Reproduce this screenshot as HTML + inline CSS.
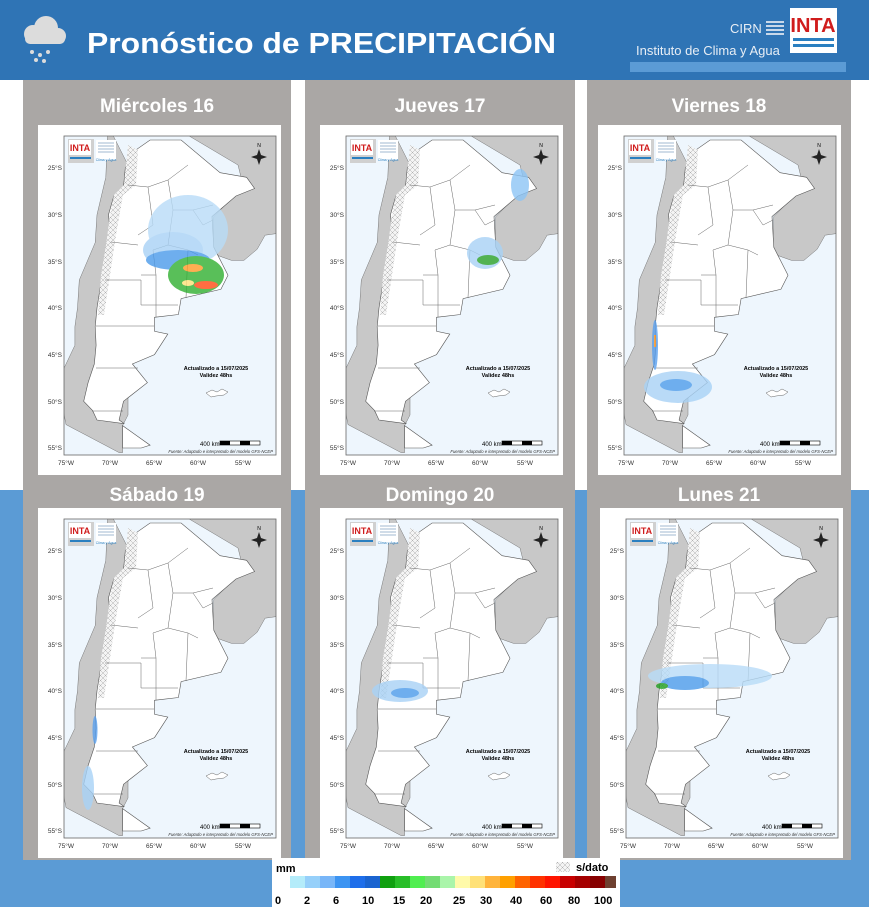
<!DOCTYPE html>
<html><head><meta charset="utf-8"><style>
html,body{margin:0;padding:0;width:869px;height:907px;overflow:hidden;background:#fff}
svg{display:block;font-family:"Liberation Sans",sans-serif}
</style></head><body>
<svg width="869" height="907" viewBox="0 0 869 907" xmlns="http://www.w3.org/2000/svg">
<defs>
<pattern id="hx" width="5" height="5" patternUnits="userSpaceOnUse">
<rect width="5" height="5" fill="#f4f4f4"/><path d="M0 0L5 5M5 0L0 5" stroke="#b0b0b0" stroke-width="0.5"/>
</pattern>
<clipPath id="fr"><rect x="26" y="11" width="212" height="319"/></clipPath>
<symbol id="map" viewBox="0 0 243 350" width="243" height="350">
<rect width="243" height="350" fill="#fff"/>
<g clip-path="url(#fr)">
<rect x="26" y="11" width="212" height="319" fill="#eef6fd"/>
<polygon fill="#c8c8c8" stroke="#777" stroke-width="0.5" points="69.6,10.3 67.8,52.3 59,89.7 57.2,117.6 41.3,155 39.5,183 36.9,201.6 36.9,220.3 23.6,248.3 23.6,276.3 28,299.6 54.6,313.6 81.1,327.6 84.6,327.6 84.6,300.6 90,290 90,40 75,10.3"/>
<polygon fill="#c8c8c8" stroke="#777" stroke-width="0.5" points="60,10.3 240.4,10.3 240.4,108.3 227.1,110.2 219.2,124.2 205.9,135.4 193.6,135.4 180.3,130.7 174.9,123.2 175.8,91.5 196.2,71 205,60 200,40 150,10.3"/>
<polygon fill="#fff" stroke="#555" stroke-width="0.6" points="112.1,15 143.1,15 182.1,47.7 208.6,52.3 216.6,63.5 198,71 174,91.5 175.8,122.3 182.9,136.3 190,150.3 182.9,164.3 143.1,173.6 140.4,189.5 116.5,192.3 116.5,206.3 129.8,209.1 116.5,229.6 94.4,239 109.4,257.6 85.5,276.3 81.1,295 86.4,298.7 59,295 54.6,285.6 45.7,276.3 50.1,257.6 56.3,239 58.1,220.3 57.2,201.6 59,183 63.4,155 67.8,136.3 73.2,117.6 70.5,89.7 75.8,71 85.5,61.7 87.3,43 98.8,24.3"/>
<polygon fill="#fff" stroke="#555" stroke-width="0.6" points="84.6,300.6 84.6,323 103.2,323 112.1,320.2 98.8,310.8"/>
<path fill="url(#hx)" d="M90,20 L100,25 L98,60 L85,70 L78,110 L72,150 L66,190 L60,190 L63,150 L68,120 L72,90 L76,70 L86,60 L88,40Z"/>
<path fill="none" stroke="#666" stroke-width="0.5" d="M90,60 L110,62 L130,55 L150,40 M110,62 L115,100 L100,110 M130,55 L135,85 L155,85 L165,100 M135,85 L130,120 L115,125 L118,150 L103,150 M130,120 L150,125 L160,130 M118,150 L118,192 M73,117 L100,120 M67,155 L103,155 L103,180 L140,180 M58,201 L116,201 M58,243 L100,243 M54,286 L85,286 M150,125 L148,173 M165,100 L175,95 M155,85 L175,80"/>
<path fill="#fff" stroke="#666" stroke-width="0.5" d="M168,268 l6,-3 l5,2 l5,-3 l6,3 l-4,3 l-8,1 l-5,1z"/>
</g>
<rect x="26" y="11" width="212" height="319" fill="none" stroke="#666" stroke-width="0.8"/>
<rect x="30" y="14" width="26" height="24" fill="#d0d0d0"/>
<rect x="31" y="15" width="22" height="15" fill="#fff"/>
<text x="42" y="26" font-size="9" font-weight="bold" fill="#d01c1c" text-anchor="middle">INTA</text>
<rect x="32" y="32" width="21" height="2" fill="#2a7fc0"/>
<rect x="58" y="15" width="20" height="20" fill="#fff"/>
<path d="M60,18h16M60,21h16M60,24h16M60,27h16" stroke="#a0b8d0" stroke-width="1"/>
<text x="68" y="36" font-size="3.5" fill="#2a7fc0" text-anchor="middle">Clima y Agua</text>
<text x="221" y="22" font-size="5" text-anchor="middle">N</text>
<path d="M221,24 L223,30 L229,32 L223,34 L221,40 L219,34 L213,32 L219,30Z" fill="#222"/>
<g font-size="6.5" fill="#333" text-anchor="end">
<text x="24" y="45">25°S</text><text x="24" y="92">30°S</text><text x="24" y="139">35°S</text><text x="24" y="185">40°S</text><text x="24" y="232">45°S</text><text x="24" y="279">50°S</text><text x="24" y="325">55°S</text>
</g>
<g font-size="6.5" fill="#333" text-anchor="middle">
<text x="28" y="340">75°W</text><text x="72" y="340">70°W</text><text x="116" y="340">65°W</text><text x="160" y="340">60°W</text><text x="205" y="340">55°W</text>
</g>
<text x="178" y="245" font-size="5.5" font-weight="bold" text-anchor="middle">Actualizado a 15/07/2025</text>
<text x="178" y="252" font-size="5.5" font-weight="bold" text-anchor="middle">Validez 48hs</text>
<text x="162" y="321" font-size="6">400 km</text>
<rect x="182" y="316" width="40" height="4" fill="#fff" stroke="#000" stroke-width="0.6"/>
<rect x="182" y="316" width="10" height="4" fill="#000"/><rect x="202" y="316" width="10" height="4" fill="#000"/>
<text x="235" y="328" font-size="4.2" font-style="italic" fill="#333" text-anchor="end">Fuente: Adaptado e interpretado del modelo GFS-NCEP</text>
</symbol>
</defs>

<rect x="0" y="80" width="869" height="410" fill="#fff"/>
<rect x="0" y="490" width="869" height="417" fill="#5b9bd5"/>
<rect x="0" y="0" width="869" height="80" fill="#2f74b5"/>
<g fill="#dcdcdc">
<circle cx="33" cy="34" r="9"/><circle cx="46" cy="28" r="12"/><circle cx="58" cy="36" r="8"/><rect x="25" y="34" width="40" height="10" rx="5"/>
</g>
<g fill="#dcdcdc"><circle cx="32" cy="52" r="2"/><circle cx="40" cy="55" r="2"/><circle cx="48" cy="52" r="2"/><circle cx="36" cy="60" r="2"/><circle cx="44" cy="61" r="2"/></g>
<text x="87" y="53" font-size="29" font-weight="bold" fill="#fff" textLength="469" lengthAdjust="spacingAndGlyphs">Pronóstico de PRECIPITACIÓN</text>
<text x="730" y="33" font-size="13" fill="#e8eef5">CIRN</text>
<path d="M766,22h18M766,26h18M766,30h18M766,34h18" stroke="#c8d8ea" stroke-width="2"/>
<rect x="790" y="8" width="47" height="45" fill="#fff"/>
<text x="813" y="32" font-size="20" font-weight="bold" fill="#d01c1c" text-anchor="middle">INTA</text>
<rect x="793" y="38" width="41" height="3" fill="#2a7fc0"/><rect x="793" y="44" width="41" height="3" fill="#2a7fc0"/>
<text x="636" y="55" font-size="13" fill="#e8eef5">Instituto de Clima y Agua</text>
<rect x="630" y="62" width="216" height="10" fill="#5b9bd5"/>
<rect x="23" y="80" width="268" height="780" fill="#aaa7a5"/>
<rect x="305" y="80" width="270" height="780" fill="#aaa7a5"/>
<rect x="587" y="80" width="264" height="780" fill="#aaa7a5"/>
<g font-size="19" font-weight="bold" fill="#fff" text-anchor="middle">
<text x="157" y="112">Miércoles 16</text><text x="440" y="112">Jueves 17</text><text x="719" y="112">Viernes 18</text>
<text x="157" y="501">Sábado 19</text><text x="440" y="501">Domingo 20</text><text x="719" y="501">Lunes 21</text>
</g>
<g transform="translate(38,125)"><use href="#map"/>
<g opacity="0.8"><ellipse cx="150" cy="105" rx="40" ry="35" fill="#b8dcf8"/><ellipse cx="135" cy="125" rx="30" ry="18" fill="#a8d2f6"/><ellipse cx="140" cy="135" rx="32" ry="10" fill="#4a9aea"/>
<ellipse cx="158" cy="150" rx="28" ry="19" fill="#30b030"/><ellipse cx="155" cy="143" rx="10" ry="4" fill="#ff9a28"/><ellipse cx="168" cy="160" rx="12" ry="4" fill="#ff4a14"/><ellipse cx="150" cy="158" rx="6" ry="3" fill="#ffe178"/></g></g>
<g transform="translate(320,125)"><use href="#map"/>
<g opacity="0.8"><ellipse cx="165" cy="128" rx="18" ry="16" fill="#a8d2f6"/><ellipse cx="168" cy="135" rx="11" ry="5" fill="#28a028"/><ellipse cx="200" cy="60" rx="9" ry="16" fill="#8cc4f5"/></g></g>
<g transform="translate(598,125)"><use href="#map"/>
<g opacity="0.8"><ellipse cx="80" cy="262" rx="34" ry="16" fill="#a8d2f6"/><ellipse cx="78" cy="260" rx="16" ry="6" fill="#4a9aea"/><ellipse cx="57" cy="220" rx="3" ry="25" fill="#5aa0ee"/><rect x="56" y="210" width="2" height="12" fill="#ff9a28"/></g></g>
<g transform="translate(38,508)"><use href="#map"/>
<g opacity="0.8"><ellipse cx="50" cy="280" rx="6" ry="22" fill="#a8d2f6"/><ellipse cx="57" cy="222" rx="2.5" ry="14" fill="#5aa0ee"/></g></g>
<g transform="translate(320,508)"><use href="#map"/>
<g opacity="0.8"><ellipse cx="80" cy="183" rx="28" ry="11" fill="#a8d2f6"/><ellipse cx="85" cy="185" rx="14" ry="5" fill="#4a9aea"/></g></g>
<g transform="translate(600,508)"><use href="#map"/>
<g opacity="0.8"><ellipse cx="110" cy="168" rx="62" ry="12" fill="#b8dcf8"/><ellipse cx="85" cy="175" rx="24" ry="7" fill="#4a9aea"/><ellipse cx="62" cy="178" rx="6" ry="3" fill="#20a020"/></g></g>
<rect x="272" y="858" width="348" height="49" fill="#fff"/>
<text x="276" y="872" font-size="11" font-weight="bold">mm</text>
<rect x="556" y="862" width="14" height="10" fill="url(#hx)"/>
<text x="576" y="871" font-size="11" font-weight="bold">s/dato</text>
<g>
<rect x="275" y="876" width="15" height="12" fill="#fff"/>
<rect x="290" y="876" width="15" height="12" fill="#b4ecfa"/>
<rect x="305" y="876" width="15" height="12" fill="#96d0fa"/>
<rect x="320" y="876" width="15" height="12" fill="#78b6f8"/>
<rect x="335" y="876" width="15" height="12" fill="#3c94f2"/>
<rect x="350" y="876" width="15" height="12" fill="#1e6eea"/>
<rect x="365" y="876" width="15" height="12" fill="#1a64d0"/>
<rect x="380" y="876" width="15" height="12" fill="#10a010"/>
<rect x="395" y="876" width="15" height="12" fill="#28be28"/>
<rect x="410" y="876" width="15" height="12" fill="#50ee50"/>
<rect x="425" y="876" width="15" height="12" fill="#73dc73"/>
<rect x="440" y="876" width="15" height="12" fill="#aaf5aa"/>
<rect x="455" y="876" width="15" height="12" fill="#fffaaa"/>
<rect x="470" y="876" width="15" height="12" fill="#ffe178"/>
<rect x="485" y="876" width="15" height="12" fill="#ffb43c"/>
<rect x="500" y="876" width="15" height="12" fill="#ffa000"/>
<rect x="515" y="876" width="15" height="12" fill="#ff6400"/>
<rect x="530" y="876" width="15" height="12" fill="#ff3200"/>
<rect x="545" y="876" width="15" height="12" fill="#ff1400"/>
<rect x="560" y="876" width="15" height="12" fill="#c80000"/>
<rect x="575" y="876" width="15" height="12" fill="#a50000"/>
<rect x="590" y="876" width="15" height="12" fill="#870000"/>
<rect x="605" y="876" width="11" height="12" fill="#6e4030"/>
</g>
<g font-size="11" font-weight="bold">
<text x="275" y="904">0</text><text x="304" y="904">2</text><text x="333" y="904">6</text><text x="362" y="904">10</text><text x="393" y="904">15</text><text x="420" y="904">20</text><text x="453" y="904">25</text><text x="480" y="904">30</text><text x="510" y="904">40</text><text x="540" y="904">60</text><text x="568" y="904">80</text><text x="594" y="904">100</text>
</g>
</svg>
</body></html>
